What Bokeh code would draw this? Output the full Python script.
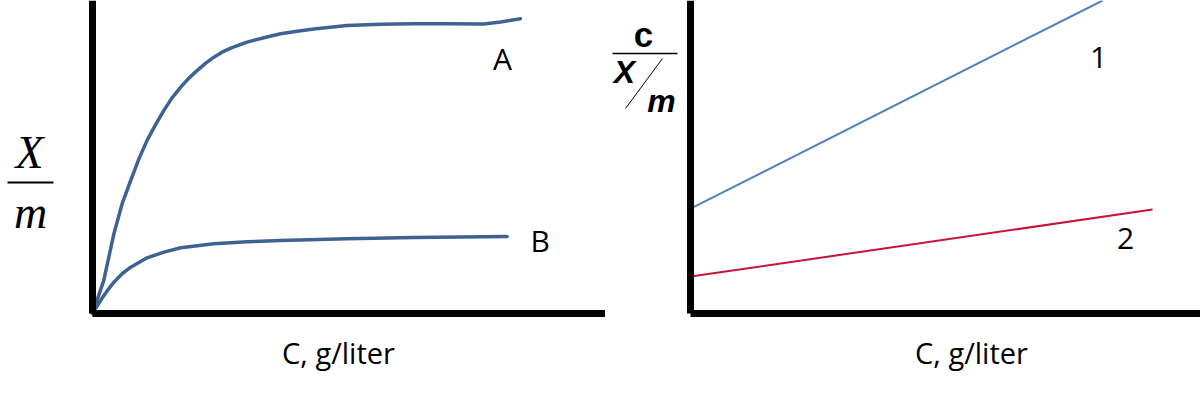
from bokeh.plotting import figure
from bokeh.layouts import row
from bokeh.models import Range1d, Label, Arrow
from bokeh.embed import file_html
from bokeh.resources import INLINE

# ---- data ----
# Left panel: adsorption isotherms X/m vs C
a_x = [0.0, 0.22, 0.42, 0.58, 0.75, 0.91, 1.07, 1.24, 1.40, 1.56, 1.73, 1.89, 2.05, 2.22, 2.38,
       2.54, 2.71, 3.03, 3.36, 3.69, 4.01, 4.34, 4.99, 5.65, 6.30, 6.95, 7.67, 8.0, 8.39]
a_y = [0.0, 1.05, 2.55, 3.50, 4.25, 4.94, 5.53, 6.04, 6.49, 6.89, 7.23, 7.52, 7.76, 8.0, 8.19,
       8.35, 8.48, 8.67, 8.81, 8.94, 9.02, 9.09, 9.20, 9.24, 9.26, 9.26, 9.25, 9.31, 9.42]
b_x = [0.0, 0.16, 0.29, 0.42, 0.58, 0.75, 1.07, 1.40, 1.73, 2.38, 3.03, 3.69, 4.99, 6.30, 8.13]
b_y = [0.0, 0.42, 0.73, 1.0, 1.27, 1.48, 1.78, 1.96, 2.10, 2.23, 2.29, 2.33, 2.39, 2.43, 2.46]
# Right panel: linear plots C/(X/m) vs C
l1_x = [0.0, 8.08]
l1_y = [3.35, 10.0]
l2_x = [0.0, 9.06]
l2_y = [1.18, 3.32]

left_labels = ["A", "B"]
left_label_x = [8.04, 8.78]
left_label_y = [8.15, 2.33]
right_labels = ["1", "2"]
right_label_x = [8.0, 8.53]
right_label_y = [8.18, 2.4]
xlabel_text = "C, g/liter"

CURVE = "#3e6393"
BLUE = "#4f81bd"
RED = "#c8143c"
SANS = "Open Sans"

PX_X = 51.0   # pixels per data unit (x)
PX_Y = 31.3   # pixels per data unit (y)
H = 393
ORIGIN_Y = 313  # pixel row of the x axis


def base(width, origin_x):
    p = figure(width=width, height=H, output_backend="svg", toolbar_location=None,
               x_range=Range1d(-origin_x / PX_X, (width - origin_x) / PX_X),
               y_range=Range1d(-(H - ORIGIN_Y) / PX_Y, ORIGIN_Y / PX_Y),
               min_border=0)
    p.outline_line_color = None
    p.xgrid.grid_line_color = None
    p.ygrid.grid_line_color = None
    p.background_fill_color = "white"
    p.border_fill_color = "white"
    xmax = (width - origin_x) / PX_X
    for ax, bnd in ((p.xaxis[0], (0, xmax)), (p.yaxis[0], (0, ORIGIN_Y / PX_Y))):
        ax.fixed_location = 0
        ax.bounds = bnd
        ax.axis_line_width = 7
        ax.axis_line_color = "black"
        ax.major_tick_line_color = None
        ax.minor_tick_line_color = None
        ax.major_label_text_font_size = "0px"
        ax.major_label_text_color = None
    return p


def label(p, x, y, text, size, font=SANS, style="normal", color="black"):
    p.add_layout(Label(x=x, y=y, text=text, text_font=font, text_font_size=size,
                       text_font_style=style, text_color=color,
                       text_align="center", text_baseline="middle"))


def bar(p, x0, y0, x1, y1, w):
    p.add_layout(Arrow(end=None, start=None, x_start=x0, y_start=y0, x_end=x1, y_end=y1,
                       line_width=w, line_color="black"))


# ---------------- left ----------------
OX1 = 92
p1 = base(605, OX1)
p1.line(a_x, a_y, line_width=3.5, line_color=CURVE, line_join="round", line_cap="round")
p1.line(b_x, b_y, line_width=3.5, line_color=CURVE, line_join="round", line_cap="round")
for t, x, y in zip(left_labels, left_label_x, left_label_y):
    label(p1, x, y, t, "30px")
label(p1, (338 - OX1) / PX_X, (ORIGIN_Y - 352) / PX_Y, xlabel_text, "29px")
# y label: X over m (serif italic fraction)
label(p1, (29 - OX1) / PX_X, (ORIGIN_Y - 152) / PX_Y, "X", "46px", font="Liberation Serif", style="italic")
label(p1, (30 - OX1) / PX_X, (ORIGIN_Y - 212) / PX_Y, "m", "46px", font="Liberation Serif", style="italic")
bar(p1, (7 - OX1) / PX_X, (ORIGIN_Y - 182) / PX_Y, (53 - OX1) / PX_X, (ORIGIN_Y - 182) / PX_Y, 2)

# ---------------- right ----------------
OX2 = 85  # 690 - 605
p2 = base(595, OX2)
p2.line(l1_x, l1_y, line_width=2, line_color=BLUE)
p2.line(l2_x, l2_y, line_width=2, line_color=RED)
for t, x, y in zip(right_labels, right_label_x, right_label_y):
    label(p2, x, y, t, "30px")


def sx(px):
    return (px - 605 - OX2) / PX_X


def sy(py):
    return (ORIGIN_Y - py) / PX_Y


label(p2, sx(971), sy(352), xlabel_text, "29px")
# y label: c over (X/m)
label(p2, sx(643), sy(34), "c", "35px", font="Liberation Sans", style="bold")
bar(p2, sx(612), sy(53), sx(677), sy(53), 1.5)
label(p2, sx(624), sy(71), "X", "32px", font="Liberation Sans", style="bold italic")
bar(p2, sx(662), sy(58), sx(625), sy(108), 1)
label(p2, sx(661), sy(100), "m", "32px", font="Liberation Sans", style="bold italic")

layout = row(p1, p2)
open("out.html", "w").write(file_html(layout, INLINE))
